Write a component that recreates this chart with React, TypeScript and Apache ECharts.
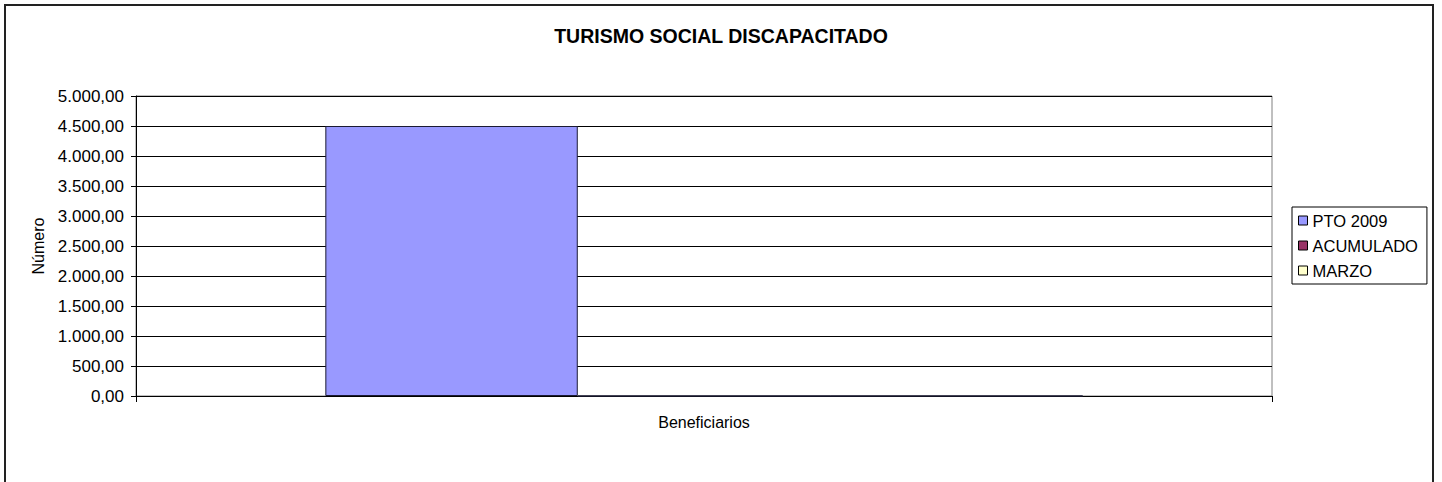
import React, { useEffect, useRef } from "react";
import * as echarts from "echarts";

const categories = ["Beneficiarios"];
const seriesNames = ["PTO 2009", "ACUMULADO", "MARZO"];
const ptoValues = [4500];
const acumuladoValues = [0];
const marzoValues = [0];
const seriesColors = ["#9999FF", "#993366", "#FFFFCC"];
const yMin = 0;
const yMax = 5000;
const yInterval = 500;

const FONT = "'Liberation Sans', Arial, sans-serif";

function fmt(v: number): string {
  const fixed = v.toFixed(2);
  const [intPart, dec] = fixed.split(".");
  const withDots = intPart.replace(/\B(?=(\d{3})+(?!\d))/g, ".");
  return withDots + "," + dec;
}

export default function App() {
  const ref = useRef<HTMLDivElement>(null);
  useEffect(() => {
    if (!ref.current) return;
    const chart = echarts.init(ref.current, undefined, { renderer: "svg" });
    const values = [ptoValues, acumuladoValues, marzoValues];
    chart.setOption({
      animation: false,
      backgroundColor: "#ffffff",
      textStyle: { fontFamily: FONT },
      title: {
        text: "TURISMO SOCIAL DISCAPACITADO",
        left: "center",
        top: 26,
        padding: 0,
        textStyle: { fontFamily: FONT, fontSize: 19.5, fontWeight: "bold", color: "#000" },
      },
      graphic: [
        {
          type: "rect",
          shape: { x: 5, y: 5, width: 1428, height: 490 },
          style: { fill: "none", stroke: "#222", lineWidth: 2 },
          silent: true,
          z: 100,
        },
      ],
      legend: {
        orient: "vertical",
        left: 1292,
        top: 207,
        padding: [5, 9, 5, 6],
        itemGap: 8,
        itemWidth: 9,
        itemHeight: 9,
        itemTextGap: 3,
        borderColor: "#000",
        borderWidth: 1,
        icon: "rect",
        itemStyle: { borderColor: "#000", borderWidth: 1 },
        textStyle: { fontFamily: FONT, fontSize: 16.5, color: "#000" },
        data: seriesNames,
      },
      grid: {
        left: 136,
        top: 96,
        right: 170,
        bottom: 86,
        show: true,
        borderColor: "#808080",
        borderWidth: 1,
        containLabel: false,
      },
      xAxis: {
        type: "category",
        data: categories,
        axisLine: { show: true, lineStyle: { color: "#000", width: 1 } },
        axisTick: { show: true, length: 6, lineStyle: { color: "#000" } },
        axisLabel: { margin: 18, fontFamily: FONT, fontSize: 16, color: "#000" },
      },
      yAxis: {
        type: "value",
        min: yMin,
        max: yMax,
        interval: yInterval,
        name: "Número",
        nameLocation: "middle",
        nameRotate: 90,
        nameGap: 90,
        nameTextStyle: { fontFamily: FONT, fontSize: 16, color: "#000" },
        axisLine: { show: true, lineStyle: { color: "#000", width: 1 } },
        axisTick: { show: true, length: 5, lineStyle: { color: "#000" } },
        axisLabel: {
          margin: 12,
          fontFamily: FONT,
          fontSize: 17,
          color: "#000",
          formatter: (v: number) => fmt(v),
        },
        splitLine: { show: true, lineStyle: { color: "#000", width: 1 } },
      },
      series: seriesNames.map((name, i) => ({
        name,
        type: "bar",
        data: values[i],
        barWidth: "22.222%",
        barGap: "0%",
        itemStyle: { color: seriesColors[i], borderColor: "#1a1a33", borderWidth: 1 },
      })),
    });
    return () => chart.dispose();
  }, []);
  return (
    <div
      ref={ref}
      style={{ position: "fixed", left: 0, top: 0, width: 1442, height: 482 }}
    />
  );
}
